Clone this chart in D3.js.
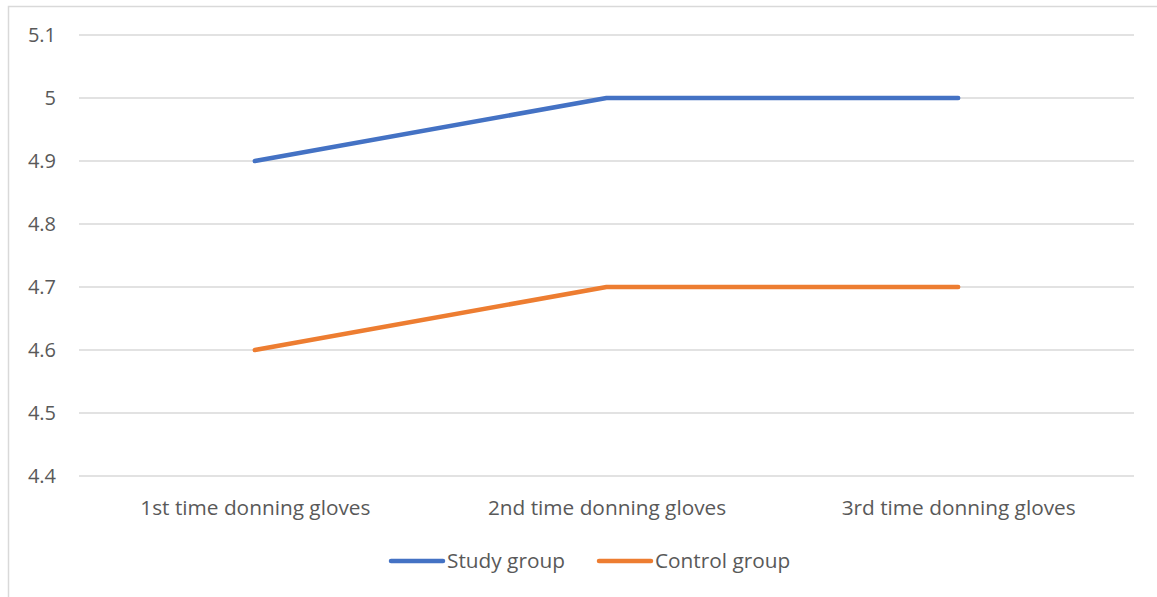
<!DOCTYPE html>
<html>
<head>
<meta charset="utf-8">
<script src="https://cdn.jsdelivr.net/npm/d3@7"></script>
<style>
  html, body { margin: 0; padding: 0; background: #fff; }
  svg { display: block; }
  text { font-family: "Open Sans", "Liberation Sans", sans-serif; fill: #595959; }
</style>
</head>
<body>
<svg id="chart" width="1157" height="597"></svg>
<script>
// Chart data
const categories = ["1st time donning gloves", "2nd time donning gloves", "3rd time donning gloves"];
const studyGroup = [4.9, 5.0, 5.0];
const controlGroup = [4.6, 4.7, 4.7];
const yTicks = [4.4, 4.5, 4.6, 4.7, 4.8, 4.9, 5.0, 5.1];
const seriesNames = ["Study group", "Control group"];
const seriesColors = ["#4472C4", "#ED7D31"];

const svg = d3.select("#chart");
const W = 1157, H = 597;
const plot = { left: 79, right: 1134, top: 35, bottom: 476 };
const fontSize = 20.8;

// Outer chart frame
svg.append("rect")
  .attr("x", 8.5).attr("y", 6.5)
  .attr("width", W + 10).attr("height", H + 10)
  .attr("fill", "none").attr("stroke", "#d9d9d9").attr("stroke-width", 1.5);

const x = d3.scalePoint()
  .domain(categories)
  .range([plot.left, plot.right])
  .padding(0.5);

const y = d3.scaleLinear()
  .domain([4.4, 5.1])
  .range([plot.bottom, plot.top]);

// Horizontal gridlines
svg.append("g")
  .selectAll("line")
  .data(yTicks)
  .join("line")
  .attr("x1", plot.left).attr("x2", plot.right)
  .attr("y1", d => y(d)).attr("y2", d => y(d))
  .attr("stroke", "#d9d9d9").attr("stroke-width", 1.3);

// Y axis labels
const yAxis = d3.axisLeft(y).tickValues(yTicks).tickSize(0).tickPadding(0)
  .tickFormat(d => d3.format("")(+d.toFixed(1)));
svg.append("g")
  .attr("transform", `translate(56,0)`)
  .call(yAxis)
  .call(g => g.select(".domain").remove())
  .call(g => g.selectAll("text")
    .attr("font-size", 20)
    .attr("fill", "#595959")
    .attr("font-family", "'Open Sans', sans-serif"));

// X axis labels
const xAxis = d3.axisBottom(x).tickSize(0).tickPadding(0);
svg.append("g")
  .attr("transform", `translate(0,${plot.bottom + 24})`)
  .call(xAxis)
  .call(g => g.select(".domain").remove())
  .call(g => g.selectAll("text")
    .attr("font-size", fontSize)
    .attr("fill", "#595959")
    .attr("font-family", "'Open Sans', sans-serif"));

// Series lines
const line = d3.line()
  .x((d, i) => x(categories[i]))
  .y(d => y(d));

[studyGroup, controlGroup].forEach((vals, i) => {
  svg.append("path")
    .datum(vals)
    .attr("d", line)
    .attr("fill", "none")
    .attr("stroke", seriesColors[i])
    .attr("stroke-width", 4.5)
    .attr("stroke-linejoin", "round")
    .attr("stroke-linecap", "round");
});

// Legend
const legendItems = [
  { name: seriesNames[0], color: seriesColors[0], x0: 391 },
  { name: seriesNames[1], color: seriesColors[1], x0: 599 }
];
const lg = svg.append("g");
legendItems.forEach(it => {
  lg.append("line")
    .attr("x1", it.x0).attr("x2", it.x0 + 52)
    .attr("y1", 561).attr("y2", 561)
    .attr("stroke", it.color).attr("stroke-width", 4.5)
    .attr("stroke-linecap", "round");
  lg.append("text")
    .attr("x", it.x0 + 56).attr("y", 561)
    .attr("dy", "0.35em")
    .attr("font-size", fontSize)
    .text(it.name);
});
</script>
</body>
</html>
